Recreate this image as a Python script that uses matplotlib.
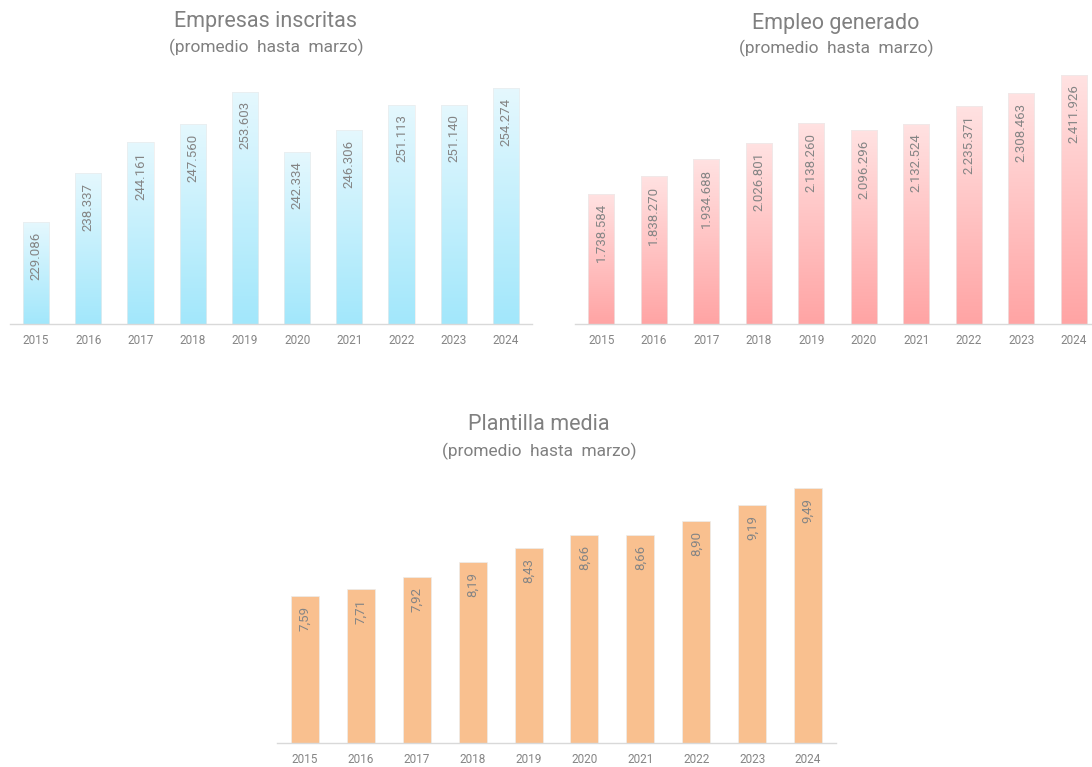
import numpy as np
import matplotlib
matplotlib.use("Agg")
import matplotlib.pyplot as plt
from matplotlib.colors import LinearSegmentedColormap

plt.rcParams['font.family'] = ['Roboto', 'DejaVu Sans']

years = ['2015', '2016', '2017', '2018', '2019', '2020', '2021', '2022', '2023', '2024']
empresas = [229086, 238337, 244161, 247560, 253603, 242334, 246306, 251113, 251140, 254274]
empleo = [1738584, 1838270, 1934688, 2026801, 2138260, 2096296, 2132524, 2235371, 2308463, 2411926]
plantilla = [7.59, 7.71, 7.92, 8.19, 8.43, 8.66, 8.66, 8.90, 9.19, 9.49]

W, H = 1092, 767
fig = plt.figure(figsize=(W / 100, H / 100), dpi=100)

def px_axes(x0, x1, ytop, ybot):
    return fig.add_axes([x0 / W, 1 - ybot / H, (x1 - x0) / W, (ybot - ytop) / H])

def fmt_int(v):
    return f"{v:,.0f}".replace(",", ".")

def fmt_dec(v):
    return f"{v:.2f}".replace(".", ",")

def draw(ax, values, ylim, fmt, top_col, bot_col=None):
    x = np.arange(len(values))
    bars = ax.bar(x, values, width=0.5, bottom=0,
                  color=(top_col if bot_col is None else 'none'),
                  edgecolor='#ececec', linewidth=0.5, zorder=2)
    ax.set_xlim(-0.5, len(values) - 0.5)
    ax.set_ylim(*ylim)
    if bot_col is not None:
        cmap = LinearSegmentedColormap.from_list('g', [bot_col, top_col])
        grad = np.linspace(0, 1, 256).reshape(-1, 1)
        for b in bars:
            bx, by = b.get_x(), ylim[0]
            bw, bh = b.get_width(), b.get_height()
            im = ax.imshow(grad, cmap=cmap, origin='lower', aspect='auto',
                           extent=[bx, bx + bw, by, bh], zorder=1.5)
            im.set_clip_path(b)
        ax.set_xlim(-0.5, len(values) - 0.5)
        ax.set_ylim(*ylim)
    for xi, v in zip(x, values):
        ax.annotate(fmt(v), (xi, v), xytext=(0, -7), textcoords='offset points',
                    rotation=90, ha='center', va='top', fontsize=9.5, color='#858585')
    ax.set_xticks(x)
    ax.set_xticklabels(years, fontsize=8.5, color='#858585')
    ax.tick_params(axis='x', length=0, pad=7)
    ax.set_yticks([])
    for s in ['left', 'right', 'top']:
        ax.spines[s].set_visible(False)
    ax.spines['bottom'].set_color('#d9d9d9')
    ax.spines['bottom'].set_linewidth(1)
    ax.set_facecolor('none')

ax1 = px_axes(10, 532, 57.5, 324)
draw(ax1, empresas, (210000, 260000), fmt_int, '#e5f8fe', '#a2e7fb')

ax2 = px_axes(575, 1100, 41.3, 324)
draw(ax2, empleo, (1000000, 2600000), fmt_int, '#ffe2e2', '#ffa4a4')

ax3 = px_axes(277, 836, 459, 743)
draw(ax3, plantilla, (5, 10), fmt_dec, '#f9c08f')

def titles(xc, y1, y2, t):
    fig.text(xc / W, 1 - y1 / H, t, ha='center', va='center', fontsize=15.5, color='#808080')
    fig.text(xc / W, 1 - y2 / H, '(promedio  hasta  marzo)', ha='center', va='center',
             fontsize=12.5, color='#808080')

titles(266, 22, 47, 'Empresas inscritas')
titles(836, 24, 48, 'Empleo generado')
titles(539, 424, 451, 'Plantilla media')

fig.savefig('out.png', dpi=100)
